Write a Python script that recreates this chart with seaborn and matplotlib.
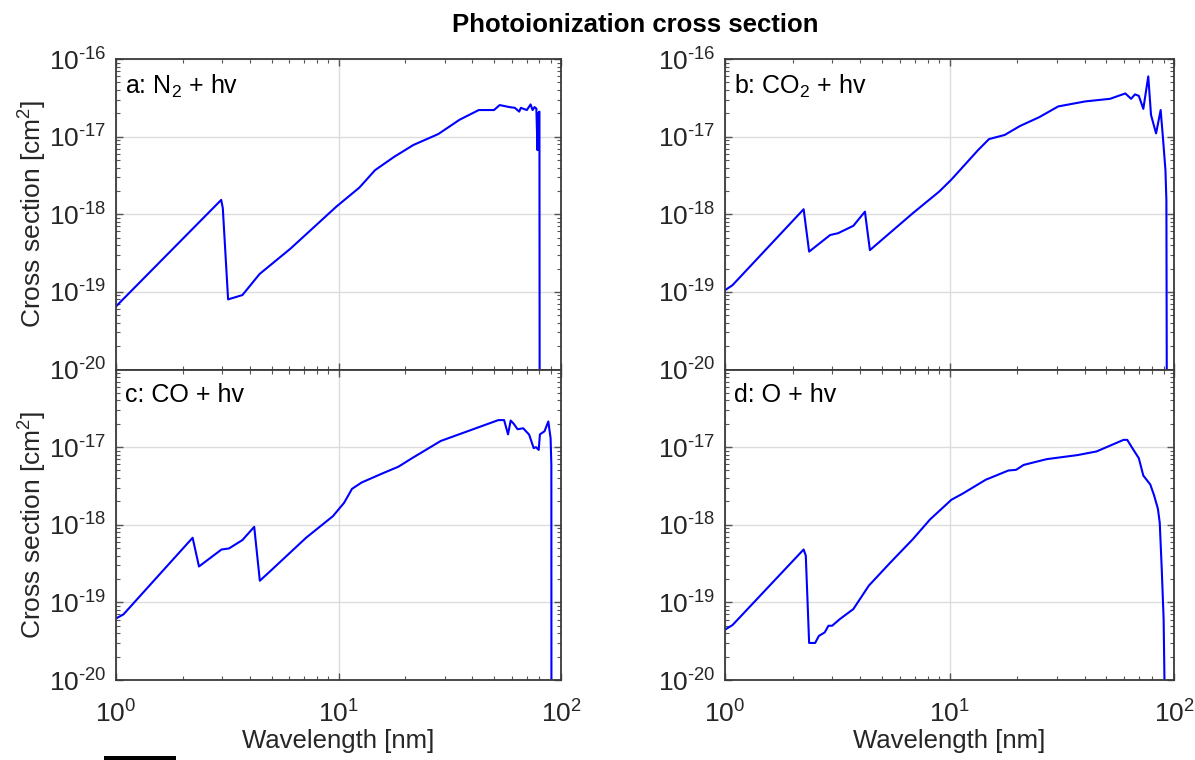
import numpy as np
import pandas as pd
import matplotlib
matplotlib.use("Agg")
import matplotlib.pyplot as plt
from matplotlib.patches import Rectangle
from matplotlib.ticker import FixedLocator, FuncFormatter, NullFormatter
import seaborn as sns

# ---------------- data ----------------
n2_wl = [1.0, 2.97, 3.02, 3.19, 3.70, 4.42, 6.08, 9.8, 12.4, 14.6, 17.8, 21.7, 28.1, 35, 42.7,
         50, 53, 58.7, 62, 64.9, 66, 70.2, 73, 74.5, 76, 77.5, 78.4, 79, 80, 80.2]
n2_cs = [6.5e-20, 1.53e-18, 1.2e-18, 8e-20, 9.1e-20, 1.7e-19, 3.6e-19, 1.26e-18, 2.2e-18, 3.7e-18,
         5.5e-18, 7.8e-18, 1.08e-17, 1.65e-17, 2.2e-17, 2.2e-17, 2.55e-17, 2.4e-17, 2.35e-17, 2.1e-17,
         2.35e-17, 2.2e-17, 2.6e-17, 2.2e-17, 2.4e-17, 2.3e-17, 6.7e-18, 2e-17, 2.1e-17, 1e-21]

co2_wl = [1.0, 1.08, 2.24, 2.37, 2.94, 3.19, 3.73, 4.2, 4.42, 6.86, 9.0, 10.2, 13.4, 15.0, 17.6,
          20.6, 25.1, 30.5, 40.2, 51.9, 60.7, 64.4, 67, 69.7, 73, 76.8, 79, 83.2, 87.2, 89.2, 91.6,
          92.5, 93]
co2_cs = [1.05e-19, 1.22e-19, 1.16e-18, 3.3e-19, 5.4e-19, 5.7e-19, 7.1e-19, 1.08e-18, 3.45e-19,
          1.03e-18, 1.96e-18, 2.8e-18, 6.7e-18, 9.3e-18, 1.05e-17, 1.37e-17, 1.78e-17, 2.45e-17,
          2.84e-17, 3.07e-17, 3.6e-17, 3.07e-17, 3.5e-17, 3.35e-17, 2.28e-17, 5.97e-17, 1.9e-17,
          1.1e-17, 2.2e-17, 1e-17, 3.7e-18, 1.5e-18, 1e-21]

co_wl = [1.0, 1.08, 2.21, 2.36, 2.98, 3.22, 3.7, 4.18, 4.43, 4.99, 7.15, 9.44, 10.6, 11.5, 12.7,
         15.8, 18.6, 21.4, 28.8, 39.6, 52.3, 55.5, 57.8, 59.4, 61.3, 63.8, 67.6, 71.9, 75.4, 77.2,
         79.4, 80.4, 84.3, 87.7, 89.8, 90.5, 90.6]
co_cs = [6.2e-20, 7e-20, 6.8e-19, 2.9e-19, 4.8e-19, 4.95e-19, 6.35e-19, 9.4e-19, 1.9e-19, 2.6e-19,
         6.8e-19, 1.29e-18, 1.92e-18, 2.9e-18, 3.5e-18, 4.6e-18, 5.6e-18, 7.2e-18, 1.2e-17, 1.67e-17,
         2.23e-17, 2.23e-17, 1.46e-17, 2.2e-17, 2.0e-17, 1.7e-17, 1.75e-17, 1.45e-17, 9.7e-18, 1e-17,
         9.2e-18, 1.46e-17, 1.6e-17, 2.14e-17, 1.3e-17, 5.9e-18, 1e-21]

o_wl = [1.0, 1.08, 2.24, 2.29, 2.37, 2.52, 2.62, 2.78, 2.89, 3.0, 3.25, 3.73, 4.37, 5.42, 6.86,
        8.19, 10.2, 11.4, 14.5, 18.3, 19.8, 21.4, 27.1, 37.2, 45.2, 52.9, 59.6, 61.9, 65.7, 69.7,
        73, 78.4, 81.5, 84.8, 86.4, 88.2, 89.9, 91.7]
o_cs = [4.45e-20, 5.1e-20, 4.8e-19, 4.0e-19, 3.0e-20, 3.0e-20, 3.7e-20, 4.1e-20, 5e-20, 5e-20,
        6.1e-20, 8.2e-20, 1.64e-19, 3.2e-19, 6.5e-19, 1.17e-18, 2.1e-18, 2.5e-18, 3.8e-18, 5.0e-18,
        5.1e-18, 5.9e-18, 7.0e-18, 7.9e-18, 8.8e-18, 1.07e-17, 1.24e-17, 1.24e-17, 9.4e-18, 7.2e-18,
        4.3e-18, 3.3e-18, 2.4e-18, 1.6e-18, 1.06e-18, 2.66e-19, 6.1e-20, 1e-21]

x_ticks = [1, 10, 100]
y_ticks = [1e-20, 1e-19, 1e-18, 1e-17, 1e-16]
panel_labels = [r"a: N$_2$ + hv", r"b: CO$_2$ + hv", "c: CO + hv", "d: O + hv"]
title = "Photoionization cross section"
xlabel = "Wavelength [nm]"
ylabel = r"Cross section [cm$^2$]"

# ---------------- style ----------------
sns.set_theme(style="ticks")
plt.rcParams["font.family"] = ["Liberation Sans", "DejaVu Sans"]
plt.rcParams["mathtext.fontset"] = "custom"
plt.rcParams["mathtext.rm"] = "Liberation Sans"
plt.rcParams["mathtext.it"] = "Liberation Sans:italic"
plt.rcParams["mathtext.bf"] = "Liberation Sans:bold"


def pow_fmt(v, pos):
    e = int(round(np.log10(v)))
    if e < 0:
        return r"$\mathregular{10^{\text{-%d}}}$" % (-e)
    return r"$\mathregular{10^{%d}}$" % e


fig = plt.figure(figsize=(11.95, 7.6), dpi=100)
H = 760.0
W = 1195.0
lefts = [116, 725]
widths = [445, 449]
tops = [59, 369.5]
height = 310.5

x_minor = [m * 10 ** d for d in range(0, 2) for m in range(2, 10)]
y_minor = [m * 10.0 ** d for d in range(-20, -16) for m in range(2, 10)]

series = [(n2_wl, n2_cs), (co2_wl, co2_cs), (co_wl, co_cs), (o_wl, o_cs)]
for i, (wl, cs) in enumerate(series):
    r, c = divmod(i, 2)
    ax = fig.add_axes([lefts[c] / W, 1 - (tops[r] + height) / H, widths[c] / W, height / H])
    df = pd.DataFrame({"wl": wl, "cs": cs})
    ax.set_xscale("log")
    ax.set_yscale("log")
    sns.lineplot(data=df, x="wl", y="cs", sort=False, estimator=None, ax=ax,
                 color="#0000ff", lw=1.5)
    ax.set_xlim(1, 100)
    ax.set_ylim(1e-20, 1e-16)
    ax.xaxis.set_major_locator(FixedLocator(x_ticks))
    yt = y_ticks if r == 0 else y_ticks[:-1]
    ax.yaxis.set_major_locator(FixedLocator(yt))
    ax.xaxis.set_minor_locator(FixedLocator(x_minor))
    ax.yaxis.set_minor_locator(FixedLocator(y_minor))
    ax.xaxis.set_major_formatter(FuncFormatter(pow_fmt))
    ax.yaxis.set_major_formatter(FuncFormatter(pow_fmt))
    ax.xaxis.set_minor_formatter(NullFormatter())
    ax.yaxis.set_minor_formatter(NullFormatter())
    ax.grid(True, which="major", color="#dcdcdc", lw=1.0)
    ax.set_axisbelow(True)
    for sp in ax.spines.values():
        sp.set_visible(True)
        sp.set_color("#3a3a3a")
        sp.set_linewidth(1.3)
    ax.tick_params(which="both", direction="in", top=True, right=True, color="#555555",
                   labelsize=19, labelcolor="#262626")
    ax.tick_params(axis="y", which="both", pad=7)
    ax.tick_params(axis="x", which="both", pad=15)
    ax.tick_params(which="major", length=5, width=1.0)
    ax.tick_params(which="minor", length=3, width=0.8)
    ax.set_xlabel("")
    ax.set_ylabel("")
    if r == 0:
        ax.tick_params(axis="x", labelbottom=False)
    else:
        ax.set_xlabel(xlabel, fontsize=18.5, color="#262626", labelpad=1)
    if c == 0:
        ax.set_ylabel(ylabel, fontsize=19, color="#262626", labelpad=0)
    ax.text(0.02, 0.955, panel_labels[i], transform=ax.transAxes, ha="left", va="top",
            fontsize=18, color="black")

fig.text(635 / W, 1 - 25 / H, title, fontsize=18.5, fontweight="bold", ha="center",
         va="center", color="black")

# small black bar at bottom left of the reference image
fig.patches.append(Rectangle((104 / W, 1 - 760 / H), 72 / W, 4 / H, transform=fig.transFigure,
                             facecolor="black", edgecolor="none", figure=fig))

fig.savefig("out.png", dpi=100)
